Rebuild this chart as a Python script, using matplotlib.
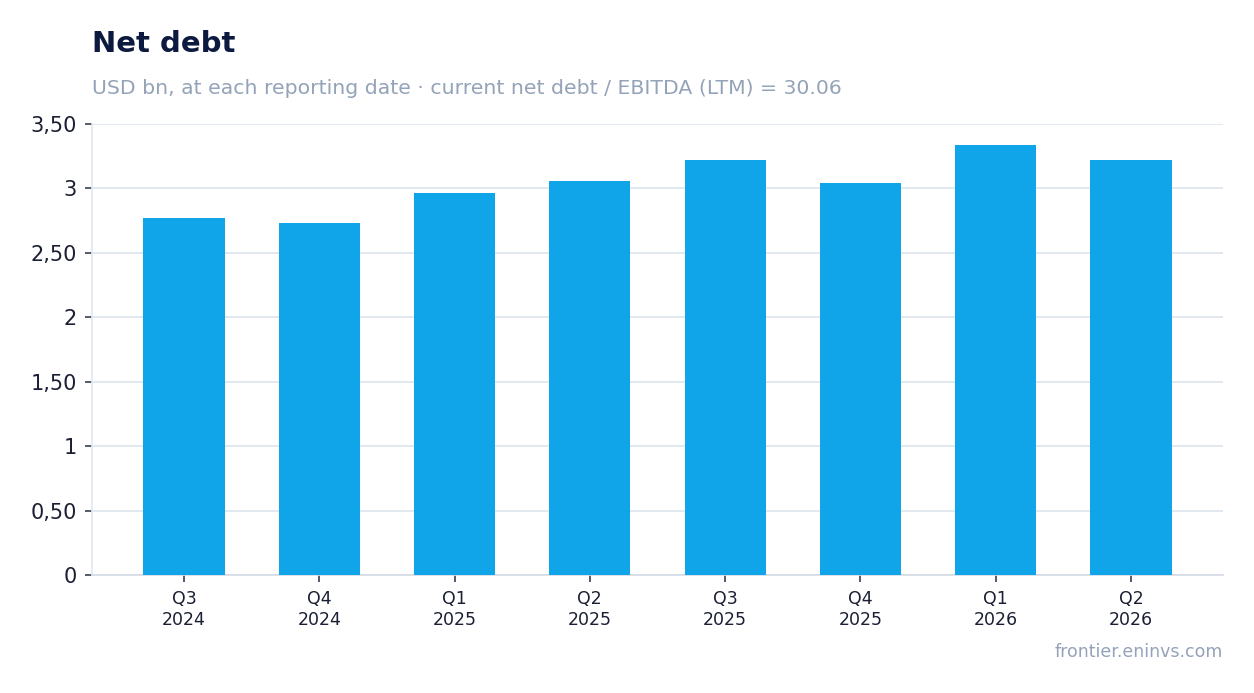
import matplotlib.pyplot as plt
from matplotlib.ticker import FuncFormatter
import numpy as np

# data
quarters = ['Q3\n2024', 'Q4\n2024', 'Q1\n2025', 'Q2\n2025',
            'Q3\n2025', 'Q4\n2025', 'Q1\n2026', 'Q2\n2026']
net_debt = [2.77, 2.73, 2.965, 3.06, 3.22, 3.04, 3.34, 3.22]
y_ticks = [0, 0.5, 1, 1.5, 2, 2.5, 3, 3.5]

bar_color = '#10a5e8'
grid_color = '#e2e8f0'
text_dark = '#1a1f33'
muted = '#94a3b8'

fig = plt.figure(figsize=(12.54, 6.93), dpi=100)
ax = fig.add_axes([92/1254, 1 - 575/693, (1223-92)/1254, (575-124)/693])

x = np.arange(len(quarters))
ax.bar(x, net_debt, width=0.6, color=bar_color, zorder=3)

ax.set_xlim(-0.68, len(quarters) - 1 + 0.68)
ax.set_ylim(0, 3.5)
ax.set_yticks(y_ticks)

def fmt(v, pos):
    if abs(v - round(v)) < 1e-9:
        return str(int(round(v)))
    return ('%.2f' % v).replace('.', ',')

ax.yaxis.set_major_formatter(FuncFormatter(fmt))
ax.set_xticks(x)
ax.set_xticklabels(quarters)

ax.grid(axis='y', color=grid_color, linewidth=1.4, zorder=0)
ax.set_axisbelow(True)
for s in ['top', 'right']:
    ax.spines[s].set_visible(False)
ax.spines['left'].set_color(grid_color)
ax.spines['bottom'].set_color('#d5dbe5')
ax.spines['left'].set_linewidth(1.2)
ax.spines['bottom'].set_linewidth(1.2)

ax.tick_params(axis='y', labelsize=15, colors=text_dark, length=5, width=1.2, pad=6)
ax.tick_params(axis='x', labelsize=12.5, colors=text_dark, length=5, width=1.2, pad=6)
ax.tick_params(axis='both', color='#3a4050')

fig.text(92/1254, 1 - 44/693, 'Net debt', fontsize=21, fontweight='bold',
         color='#0d1a40', va='center', ha='left')
fig.text(92/1254, 1 - 88/693,
         'USD bn, at each reporting date \u00b7 current net debt / EBITDA (LTM) = 30.06',
         fontsize=14.7, color=muted, va='center', ha='left')
fig.text(1223/1254, 1 - 652/693, 'frontier.eninvs.com', fontsize=12.5,
         color=muted, va='center', ha='right')

fig.savefig('out.png', dpi=100)
